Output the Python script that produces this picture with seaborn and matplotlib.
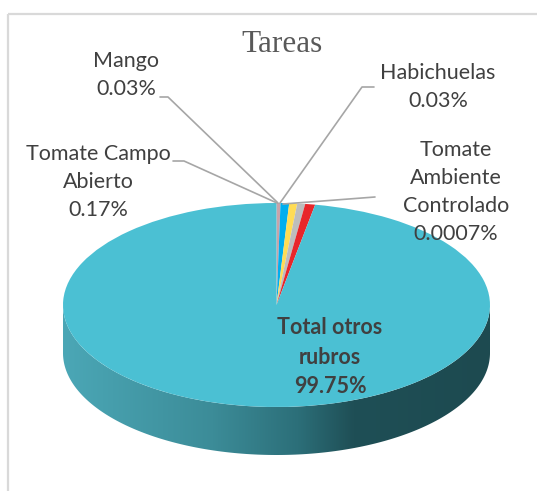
import matplotlib

matplotlib.use("Agg")
import matplotlib.pyplot as plt  # noqa: E402
import numpy as np  # noqa: E402
import seaborn as sns  # noqa: E402
from matplotlib.colors import LinearSegmentedColormap  # noqa: E402
from matplotlib.patches import Polygon, Rectangle  # noqa: E402

# slices as they appear in the picture (clockwise from 12 o'clock)
slices = ["Tomate Campo Abierto", "Mango", "Habichuelas", "Tomate Ambiente Controlado",
          "Otro", "Total otros rubros"]
shares = [0.3, 0.65, 0.6, 0.6, 0.75, 97.1]
slice_colors = ["#C9A3A9", "#00AEEF", "#FFDC55", "#BDBDBD", "#E8262A", "#4BC0D3"]

# data labels printed on the chart
label_names = ["Mango", "Habichuelas", "Tomate Campo\nAbierto", "Tomate\nAmbiente\nControlado"]
label_pcts = ["0.03%", "0.03%", "0.17%", "0.0007%"]
main_name = "Total otros\nrubros"
main_pct = "99.75%"

TEXT = "#404040"
LINE = "#A6A6A6"
W, H = 537, 491

sns.set_theme(style="white")
plt.rcParams["font.family"] = ["Lato", "DejaVu Sans"]

fig = plt.figure(figsize=(W / 100, H / 100), dpi=100)
fig.patch.set_facecolor("white")

# pie body: top ellipse spans x 63..490, y 203..407, rim depth ~48px
depth = 48 / 102
pax = fig.add_axes([63 / W, 1 - 455 / H, (490 - 63) / W, (455 - 203) / H])
pax.axis("off")

# side of the cylinder with a left->right shading
t = np.linspace(np.pi, 2 * np.pi, 200)
rim = np.column_stack([np.r_[np.cos(t), np.cos(t[::-1])],
                       np.r_[np.sin(t), np.sin(t[::-1]) - depth]])
side = Polygon(rim, closed=True, facecolor="none", edgecolor="none")
pax.add_patch(side)
shade = LinearSegmentedColormap.from_list(
    "side", [(0, "#4BA7B6"), (0.35, "#3C8C98"), (0.55, "#2C6F79"), (0.68, "#1F4F56"), (1, "#1D4A50")])
grad = np.linspace(0, 1, 256)[None, :]
img = pax.imshow(grad, cmap=shade, extent=[-1, 1, -1 - depth, 0], aspect="auto", zorder=1)
img.set_clip_path(side)

wedges, _ = pax.pie(shares, colors=slice_colors, startangle=90, counterclock=False,
                    radius=1, center=(0, 0), wedgeprops=dict(linewidth=0))
for w in wedges:
    w.set_zorder(2)
pax.set_aspect("auto")
pax.set_xlim(-1, 1)
pax.set_ylim(-1 - depth, 1)

# overlay in pixel coordinates for frame, title, labels
ax = fig.add_axes([0, 0, 1, 1], zorder=5)
ax.set_xlim(0, W)
ax.set_ylim(H, 0)
ax.axis("off")
ax.patch.set_alpha(0)

ax.add_patch(Rectangle((8, 14), 700, 700, fill=False, edgecolor="#D9D9D9", linewidth=1.6))
ax.text(282, 44, "Tareas", ha="center", va="center", fontsize=22.5,
        family=["Liberation Serif"], color="#595959")

label_pos = [(126, 75), (438, 87), (98, 182), (456, 192)]
leaders = [
    [(160, 97), (168, 97), (278, 203)],
    [(374, 87), (362, 87), (280, 203)],
    [(173, 161), (184, 161), (277, 203)],
    [(375, 197), (283, 204)],
]
for name, pct, (x, y), pts in zip(label_names, label_pcts, label_pos, leaders):
    ax.text(x, y, f"{name}\n{pct}", ha="center", va="center", fontsize=15.5,
            color=TEXT, linespacing=1.5)
    xs, ys = zip(*pts)
    ax.plot(xs, ys, color=LINE, linewidth=1.2)

ax.text(330, 357, f"{main_name}\n{main_pct}", ha="center", va="center", fontsize=15.5,
        fontweight="bold", color=TEXT, linespacing=1.5)

fig.savefig("out.png", dpi=100)
